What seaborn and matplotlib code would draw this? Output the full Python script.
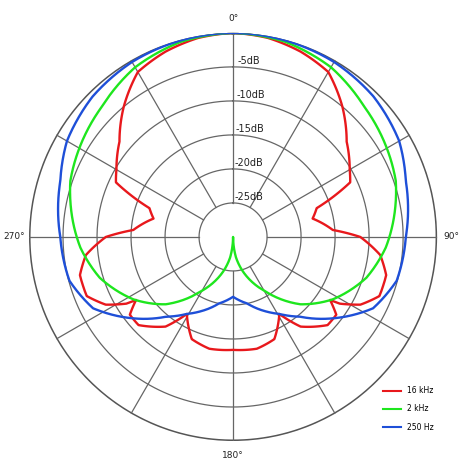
import numpy as np
import pandas as pd
import matplotlib
matplotlib.use("Agg")
import matplotlib.pyplot as plt
import seaborn as sns

# right-half angles (degrees) and levels (dB); the pattern is mirrored
ang_16k = [0, 10, 20, 30, 40, 50, 60, 65, 71, 77, 86, 90, 97, 104, 112, 118, 122, 123, 127, 133, 143, 149, 158, 168, 180]
db_16k = [0, -0.3, -1, -2, -5, -8.2, -10.2, -11, -17, -18, -15.3, -11.3, -8.2, -6.8, -6.8, -8.8, -11.5, -13, -11, -11, -13.5, -16.8, -13.8, -13.2, -13.4]
ang_2k = [0, 15, 30, 45, 60, 71, 80, 94, 107, 122, 135, 149, 164, 172, 177, 180]
db_2k = [0, -0.3, -1.2, -2.8, -3.9, -4.7, -5.8, -7.5, -9.5, -12.7, -16, -20.6, -24.7, -27, -29, -30]
ang_250 = [0, 15, 30, 45, 60, 72, 90, 105, 117, 129, 140, 149, 156, 168, 180]
db_250 = [0, -0.1, -0.3, -0.8, -1.8, -3.3, -4.6, -5.1, -6.9, -11, -14.7, -16.8, -18, -20, -21.2]
series_names = ["16 kHz", "2 kHz", "250 Hz"]
colors = ["#e8181c", "#1ee61e", "#1e4fd8"]

frames = []
for name, a, d in zip(series_names, [ang_16k, ang_2k, ang_250], [db_16k, db_2k, db_250]):
    a = np.array(a, float); d = np.array(d, float)
    full_a = np.concatenate([a, 360 - a[::-1][1:]])
    full_d = np.concatenate([d, d[::-1][1:]])
    frames.append(pd.DataFrame({"theta": np.deg2rad(full_a), "db": full_d, "series": name}))
df = pd.concat(frames, ignore_index=True)

fig = plt.figure(figsize=(4.74, 4.74), dpi=100)
ax = fig.add_axes([0.0612, 0.0696, 0.861, 0.861], projection="polar")
ax.set_theta_zero_location("N")
ax.set_theta_direction(-1)
ax.set_ylim(-30, 0)
ax.grid(False)
ax.spines["polar"].set_visible(False)
ax.set_yticks([])

gc = "#666666"
tt = np.linspace(0, 2 * np.pi, 400)
for r in [-5, -10, -15, -20, -25]:
    ax.plot(tt, np.full_like(tt, r), color=gc, lw=0.9, zorder=1)
ax.plot(tt, np.zeros_like(tt), color="#555555", lw=2.2, zorder=1)
for a in range(0, 360, 30):
    ax.plot([np.deg2rad(a)] * 2, [-25, 0], color=gc, lw=0.9, zorder=1)
for r in [-5, -10, -15, -20, -25]:
    ax.text(np.deg2rad(1.5), r + 0.9, f"{r}dB", fontsize=7, color="#222222",
            ha="left", va="center", zorder=3)

n_before = len(ax.lines)
sns.lineplot(data=df, x="theta", y="db", hue="series", palette=colors,
             sort=False, estimator=None, units="series", lw=1.7, ax=ax, legend=False, zorder=2)
for ln in ax.lines[n_before:]:
    ln.get_path()._interpolation_steps = 30

ax.set_xticks(np.deg2rad([0, 90, 180, 270]))
ax.set_xticklabels(["0°", "90°", "180°", "270°"], fontsize=6.5, color="#222222")
ax.tick_params(axis="x", pad=0)
ax.set_xlabel(""); ax.set_ylabel("")

from matplotlib.lines import Line2D
handles = [Line2D([], [], color=c, lw=1.5) for c in colors]
fig.legend(handles, series_names, loc="lower right", bbox_to_anchor=(0.93, 0.075),
           frameon=False, fontsize=5.5, handlelength=2.4, labelspacing=1.2)
fig.savefig("out.png", dpi=100, facecolor="white")
